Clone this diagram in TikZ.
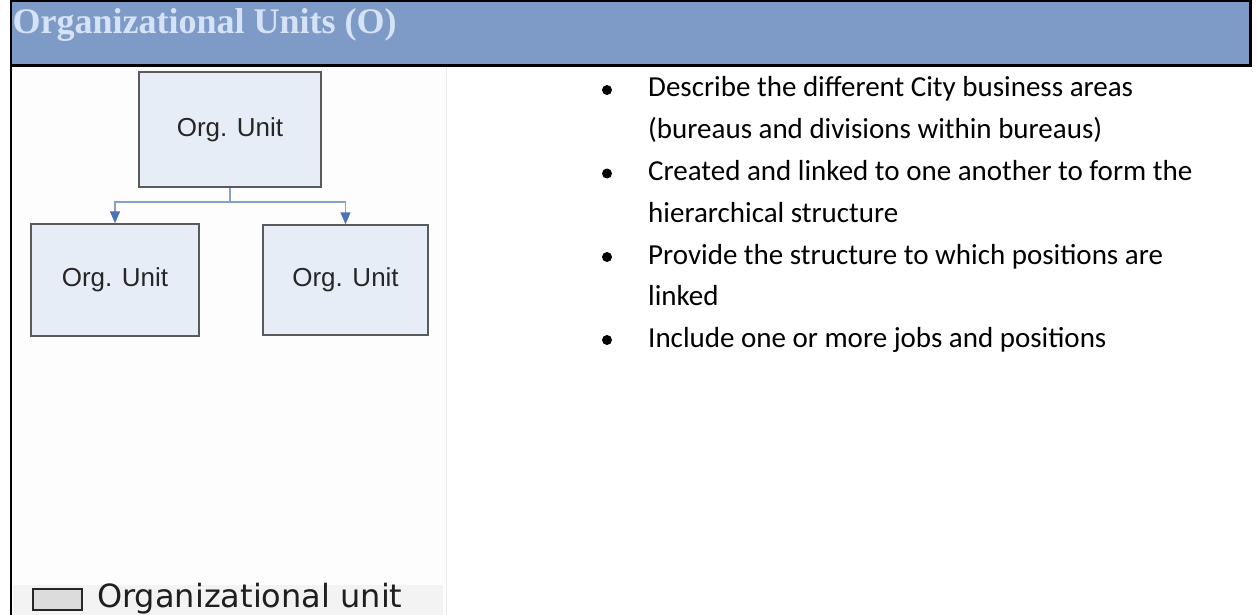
\documentclass[tikz,border=0pt]{standalone}
\usepackage{fontspec}
\setmainfont{Liberation Serif}
\newfontfamily\arialf{Liberation Sans}
\newfontfamily\calib{Carlito}
\newfontfamily\legf{DejaVu Sans}
\usetikzlibrary{arrows.meta}
\definecolor{hdrblue}{HTML}{7E9BC8}
\definecolor{hdrtext}{HTML}{D6E2F6}
\definecolor{boxfill}{HTML}{E7EDF7}
\definecolor{boxline}{HTML}{5A5A5A}
\definecolor{connline}{HTML}{8AA0CC}
\definecolor{arrowblue}{HTML}{4A72B8}
\definecolor{legfill}{HTML}{DCDCDC}
\definecolor{legband}{HTML}{F3F3F3}
\definecolor{picbg}{HTML}{FDFDFD}
\definecolor{picedge}{HTML}{EAEAEA}
\tikzset{
  unitbox/.style={draw=boxline, line width=1.5pt, fill=boxfill, rectangle,
    font=\arialf\fontsize{26}{30}\selectfont, text=black!85, inner sep=0pt},
  conn/.style={draw=connline, line width=1.5pt},
  arr/.style={-{Triangle[length=12pt,width=10pt,color=arrowblue]}},
  bul/.style={circle, fill=black, inner sep=0pt, minimum size=10pt},
  btxt/.style={anchor=base west, inner sep=0pt, font=\calib\fontsize{29}{35}\selectfont},
  border/.style={draw=black, line width=2.5pt},
}
\begin{document}
\begin{tikzpicture}[x=1pt,y=-1pt]
\useasboundingbox (0,0) rectangle (1257,615);
% header band
\fill[hdrblue] (11,1.5) rectangle (1250.5,65.5);
% picture area background
\fill[picbg] (12.5,67) rectangle (446,615);
\fill[legband] (12.5,585) rectangle (443,615);
\draw[picedge, line width=1pt] (446,67) -- (446,615);
% borders
\draw[border] (9.75,1.25) -- (1251.75,1.25);
\draw[border] (11,0) -- (11,615);
\draw[border] (1250.5,0) -- (1250.5,66.5);
\draw[border] (9.75,65.5) -- (1251.75,65.5);
% header title
\node[anchor=base west, inner sep=0pt, text=hdrtext,
  font=\bfseries\fontsize{36}{42}\selectfont] (title) at (12.5,34) {Organizational Units (O)};
% org chart
\node[unitbox, minimum width=182pt, minimum height=115pt] (top) at (230,129.5) {Org. Unit};
\node[unitbox, minimum width=168pt, minimum height=112pt] (left) at (115,280) {Org. Unit};
\node[unitbox, minimum width=165pt, minimum height=110pt] (right) at (345.5,280) {Org. Unit};
\coordinate (junc) at (230,202);
\draw[conn] (top.south) -- (junc);
\draw[conn, arr] (junc) -| (left.north);
\draw[conn, arr] (junc) -| (right.north);
% legend
\node[draw=black!85, line width=2.2pt, fill=legfill, minimum width=49pt, minimum height=21pt, inner sep=0pt] (legbox) at (57.5,599.5) {};
\node[anchor=base west, inner sep=0pt, text=black!88, font=\legf\fontsize{32}{38}\selectfont] (legtext) at (97,607) {Organizational unit};
% bullets
\node[bul] (b1) at (607,90) {};
\node[bul] (b2) at (607,173.5) {};
\node[bul] (b3) at (607,257) {};
\node[bul] (b4) at (607,340) {};
\node[btxt] (t1) at (648,97) {Describe the different City business areas};
\node[btxt] (t1b) at (648,138.5) {(bureaus and divisions within bureaus)};
\node[btxt] (t2) at (648,180.5) {Created and linked to one another to form the};
\node[btxt] (t2b) at (648,222) {hierarchical structure};
\node[btxt] (t3) at (648,264) {Provide the structure to which positions are};
\node[btxt] (t3b) at (648,305.5) {linked};
\node[btxt] (t4) at (648,347) {Include one or more jobs and positions};
\end{tikzpicture}
\end{document}
